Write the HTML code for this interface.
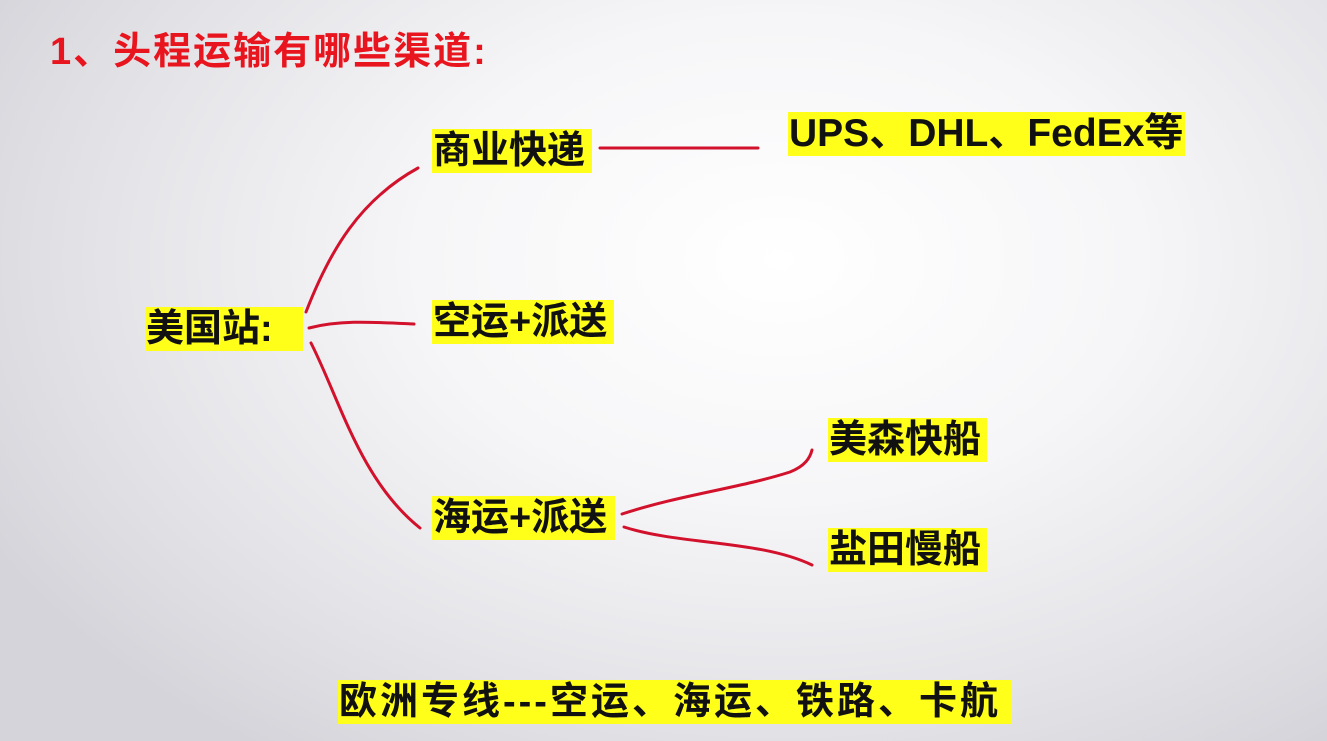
<!DOCTYPE html>
<html><head><meta charset="utf-8"><style>
html,body{margin:0;padding:0}
body{width:1327px;height:741px;overflow:hidden;position:relative;
background:radial-gradient(ellipse 900px 600px at 780px 260px,#ffffff 0%,#f6f6f8 40%,#e4e4e8 75%,#d4d4da 100%);
font-family:"Liberation Sans","Noto Sans CJK SC",sans-serif;font-weight:bold}
.t{position:absolute;left:50px;top:30px;font-size:38px;line-height:44px;color:#e8141e;white-space:nowrap;letter-spacing:2px}
.y{position:absolute;background:#ffff1a;color:#111;font-size:38px;line-height:44px;height:44px;white-space:nowrap;padding:0 1px}
svg{position:absolute;left:0;top:0}
</style></head><body>
<div class="t">1、头程运输有哪些渠道:</div>
<svg width="1327" height="741"><g fill="none" stroke="#d2122c" stroke-width="3" stroke-linecap="round">
<path d="M600 148 L758 148"/>
<path d="M306 312 C330 250,360 200,418 168"/>
<path d="M309 328 C340 320,370 322,414 324"/>
<path d="M311 343 C340 400,360 480,420 528"/>
<path d="M622 514 C680 495,740 488,790 472 C805 466,810 458,812 450"/>
<path d="M624 527 C680 545,760 540,812 565"/>
</g></svg>
<div class="y" style="left:432px;top:129px;width:158px">商业快递</div>
<div class="y" style="left:788px;top:112px;width:395px;font-size:39px">UPS、DHL、FedEx等</div>
<div class="y" style="left:145px;top:307px;width:156px">美国站:</div>
<div class="y" style="left:432px;top:300px;width:180px">空运+派送</div>
<div class="y" style="left:432px;top:496px;width:181px">海运+派送</div>
<div class="y" style="left:828px;top:418px;width:157px">美森快船</div>
<div class="y" style="left:828px;top:528px;width:157px">盐田慢船</div>
<div class="y" style="left:338px;top:680px;width:672px;letter-spacing:3px">欧洲专线---空运、海运、铁路、卡航</div>
</body></html>
